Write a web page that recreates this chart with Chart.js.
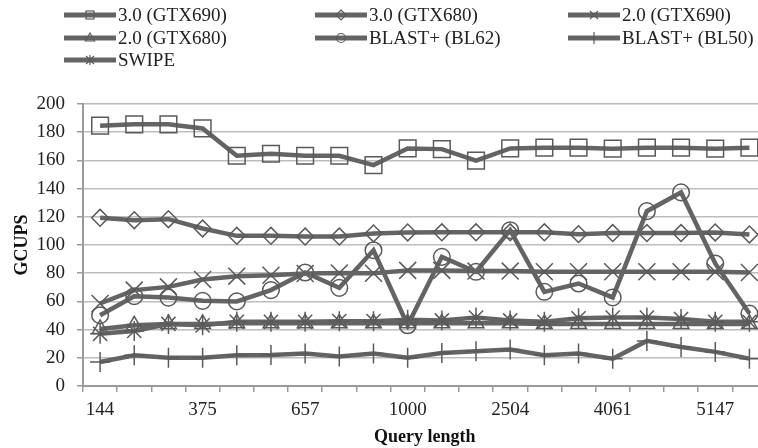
<!DOCTYPE html>
<html>
<head>
<meta charset="utf-8">
<script src="https://cdn.jsdelivr.net/npm/chart.js@4.4.0/dist/chart.umd.min.js"></script>
<style>
  html, body { margin: 0; padding: 0; background: #fff; overflow: hidden; }
  #wrap { position: relative; width: 758px; height: 448px; overflow: hidden; }
  #gcups { position: absolute; left: 0; top: 0; }
  .lg { position: absolute; height: 22px; display: flex; align-items: center;
        font-family: "Liberation Serif", "Times New Roman", serif; font-size: 19px; color: #222; white-space: nowrap; }
  .lg svg { margin-right: 2px; }
</style>
</head>
<body>
<div id="wrap">
  <canvas id="gcups" width="780" height="448"></canvas>
  <div id="legend"></div>
</div>
<script>
// query lengths (x categories)
var queryLengths = ['144', '189', '222', '375', '464', '567', '657', '729', '850', '1000',
                    '1500', '2005', '2504', '3005', '3564', '4061', '4548', '4743', '5147', '5478'];

var seriesNames = ['3.0 (GTX690)', '3.0 (GTX680)', '2.0 (GTX690)', '2.0 (GTX680)',
                   'BLAST+ (BL62)', 'BLAST+ (BL50)', 'SWIPE'];

var v30_690 = [184.6, 185.6, 185.6, 182.7, 163.3, 164.7, 163.3, 163.3, 156.7, 168.5,
               168, 159.8, 168.5, 169, 169, 168.3, 169, 169, 168.3, 169];
var v30_680 = [119.3, 117.6, 118.3, 111.7, 106.5, 106.5, 106, 106, 108.2, 108.9,
               109, 109, 109, 109, 107.7, 108.5, 108.5, 108.5, 108.9, 107.5];
var v20_690 = [58.5, 68, 70.3, 75.5, 77.9, 78.5, 79.8, 80.2, 80, 82,
               82, 81.5, 81.5, 81, 81, 81, 81, 81, 81, 80.5];
var v20_680 = [40.5, 43, 44, 44, 44.5, 44.5, 44.5, 44.5, 44.5, 44.5,
               44.5, 44.5, 44.5, 44, 44, 44, 44, 44, 44, 44];
var bl62 = [50.2, 63.7, 62.7, 60.4, 60, 68, 80.5, 69.6, 96.3, 43.1,
            91.6, 81, 110.5, 66.8, 72.7, 62.8, 124, 137.3, 86.9, 51.4];
var bl50 = [17, 21.8, 20.1, 20, 21.8, 22, 23, 21, 23, 20.1,
            23.4, 24.6, 25.8, 21.8, 23, 19.4, 32, 27.7, 24.2, 19.4];
var swipe = [37, 39, 44, 43, 45.5, 45.5, 45.5, 46, 46, 47,
             46.5, 48.5, 46.5, 45.5, 48, 48.5, 48.5, 47.5, 45.5, 45.5];

var yTicks = [0, 20, 40, 60, 80, 100, 120, 140, 160, 180, 200];

var LINE = '#646464';
var MARK = '#5a5a5a';
var serif = '"Liberation Serif", "Times New Roman", serif';

var allValues = [v30_690, v30_680, v20_690, v20_680, bl62, bl50, swipe];
var styles = [
  { pointStyle: 'rect', r: 11.8 },
  { pointStyle: 'rectRot', r: 8.4 },
  { pointStyle: 'crossRot', r: 12 },
  { pointStyle: 'triangle', r: 9 },
  { pointStyle: 'circle', r: 8.3 },
  { pointStyle: 'cross', r: 10 },
  { pointStyle: 'star', r: 10 }
];

var datasets = [];
for (var i = 0; i < allValues.length; i++) {
  datasets.push({
    label: seriesNames[i],
    data: allValues[i],
    borderColor: LINE,
    borderWidth: 4.5,
    backgroundColor: 'rgba(0,0,0,0)',
    pointStyle: styles[i].pointStyle,
    pointRadius: styles[i].r,
    pointBorderColor: MARK,
    pointBorderWidth: 1.5,
    pointBackgroundColor: 'rgba(0,0,0,0)',
    tension: 0,
    fill: false,
    order: allValues.length - i
  });
}

var ctx = document.getElementById('gcups').getContext('2d');
var myChart = new Chart(ctx, {
  type: 'line',
  data: { labels: queryLengths, datasets: datasets },
  options: {
    responsive: false,
    animation: false,
    devicePixelRatio: 1,
    layout: { padding: { top: 104, right: 11, left: 0, bottom: 0 } },
    plugins: { legend: { display: false }, tooltip: { enabled: false } },
    scales: {
      x: {
        type: 'category',
        offset: true,
        afterFit: function(scale) { scale.height = 62; },
        grid: { offset: true, drawOnChartArea: false, tickLength: 6, tickColor: '#9a9a9a', lineWidth: 1.5 },
        border: { color: '#9a9a9a', width: 2 },
        ticks: {
          autoSkip: false, maxRotation: 0, padding: 7, color: '#222',
          font: { family: serif, size: 19 },
          callback: function(v, idx) { return idx % 3 === 0 ? this.getLabelForValue(v) : ''; }
        },
        title: { display: true, text: 'Query length', color: '#111',
                 font: { family: serif, size: 18, weight: 'bold' }, padding: { top: 0, bottom: 0 } }
      },
      y: {
        min: 0, max: 200,
        afterFit: function(scale) { scale.width = 83; },
        afterBuildTicks: function(scale) { scale.ticks = yTicks.map(function(t) { return { value: t }; }); },
        grid: { color: '#bdbdbd', lineWidth: 1.5, tickLength: 6, tickColor: '#9a9a9a' },
        border: { color: '#9a9a9a', width: 2 },
        ticks: { padding: 12, color: '#222', font: { family: serif, size: 19 } },
        title: { display: true, text: 'GCUPS', color: '#111',
                 font: { family: serif, size: 18, weight: 'bold' }, padding: { top: 12, bottom: 0 } }
      }
    }
  }
});

// legend (3 columns like the original figure)
var markerSvg = {
  rect: '<rect x="22" y="3" width="8" height="8" fill="none" stroke="' + MARK + '" stroke-width="1.2"/>',
  rectRot: '<path d="M26 2 L31 7 L26 12 L21 7 Z" fill="none" stroke="' + MARK + '" stroke-width="1.2"/>',
  crossRot: '<path d="M22 3 L30 11 M30 3 L22 11" stroke="' + MARK + '" stroke-width="1.2"/>',
  triangle: '<path d="M26 2 L30.5 10 L21.5 10 Z" fill="none" stroke="' + MARK + '" stroke-width="1.2"/>',
  circle: '<circle cx="26" cy="7" r="4.5" fill="none" stroke="' + MARK + '" stroke-width="1.2"/>',
  cross: '<path d="M26 1 L26 13 M22 7 L30 7" stroke="' + MARK + '" stroke-width="1.2"/>',
  star: '<path d="M26 2 L26 12 M22 3 L30 11 M30 3 L22 11" stroke="' + MARK + '" stroke-width="1.2"/>'
};
var colX = [64, 315, 568];
var rowY = [4, 27, 49];
var html = '';
for (var k = 0; k < seriesNames.length; k++) {
  var c = k % 3, r = Math.floor(k / 3);
  html += '<div class="lg" style="left:' + colX[c] + 'px;top:' + rowY[r] + 'px">' +
    '<svg width="52" height="14"><line x1="0" y1="7" x2="52" y2="7" stroke="' + LINE + '" stroke-width="5"/>' +
    markerSvg[styles[k].pointStyle] + '</svg><span>' + seriesNames[k] + '</span></div>';
}
document.getElementById('legend').innerHTML = html;
</script>
</body>
</html>
